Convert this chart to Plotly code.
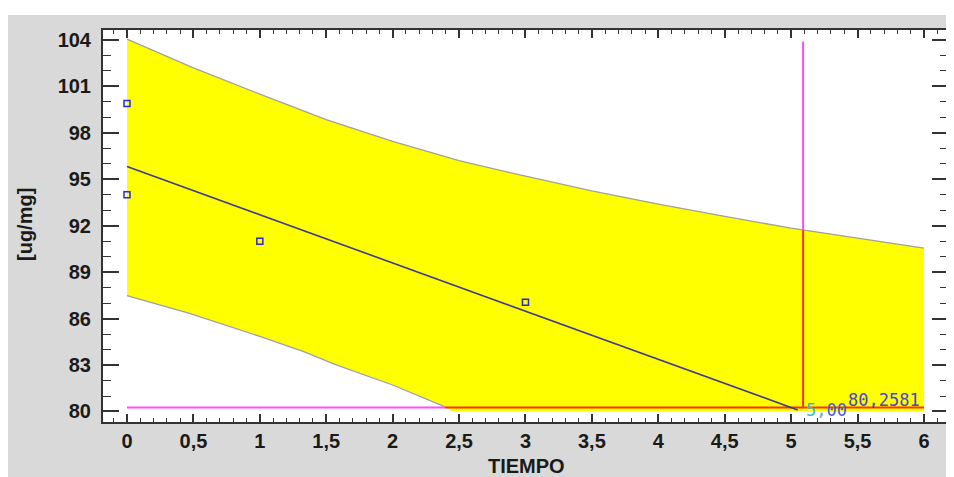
import plotly.graph_objects as go

# ---- data ----
obs_x = [0, 0, 1, 3]
obs_y = [99.9, 94.0, 91.0, 87.05]

fit_x = [0, 1, 2, 3, 4, 5, 5.05]
fit_y = [95.82, 92.71, 89.60, 86.49, 83.38, 80.27, 80.10]

upper_x = [0, 0.5, 1, 1.5, 2, 2.5, 3, 3.5, 4, 4.5, 5, 5.5, 6]
upper_y = [104.05, 102.2, 100.5, 98.85, 97.45, 96.2, 95.2, 94.25, 93.4, 92.6, 91.85, 91.2, 90.55]

lower_x = [0, 0.47, 1, 1.33, 1.58, 2, 2.39, 2.45, 6]
lower_y = [87.48, 86.34, 84.85, 83.87, 83.0, 81.71, 80.31, 80.0, 80.0]

limit_y = 80.2581
limit_start_x = 0
limit_end_x = 6
band_cross_x = 2.39
cross_x = 5.09
cross_top_y = 103.9
cross_band_y = 91.7

label_limit = "80,2581"

x_tickvals = [0, 0.5, 1, 1.5, 2, 2.5, 3, 3.5, 4, 4.5, 5, 5.5, 6]
x_ticktext = ["0", "0,5", "1", "1,5", "2", "2,5", "3", "3,5", "4", "4,5", "5", "5,5", "6"]
y_tickvals = [80, 83, 86, 89, 92, 95, 98, 101, 104]
y_ticktext = [str(v) for v in y_tickvals]

MAGENTA = "#ff4dff"
RED = "#ff3000"
YELLOW = "#ffff00"
EDGE = "#a0a0a0"

fig = go.Figure()

# band fill (closed polygon)
fig.add_trace(go.Scatter(
    x=upper_x + lower_x[::-1], y=upper_y + lower_y[::-1],
    fill="toself", fillcolor=YELLOW, mode="lines", line=dict(width=0),
    hoverinfo="skip", showlegend=False))
# band edges
fig.add_trace(go.Scatter(x=upper_x, y=upper_y, mode="lines",
                         line=dict(color=EDGE, width=1.3), showlegend=False))
fig.add_trace(go.Scatter(x=lower_x[:7], y=lower_y[:7], mode="lines",
                         line=dict(color=EDGE, width=1.3), showlegend=False))

# horizontal limit line: magenta outside band, red inside band
fig.add_trace(go.Scatter(x=[limit_start_x, band_cross_x], y=[limit_y, limit_y], mode="lines",
                         line=dict(color=MAGENTA, width=2), showlegend=False))
fig.add_trace(go.Scatter(x=[band_cross_x, limit_end_x], y=[limit_y, limit_y], mode="lines",
                         line=dict(color=RED, width=2), showlegend=False))
# vertical line
fig.add_trace(go.Scatter(x=[cross_x, cross_x], y=[cross_band_y, cross_top_y], mode="lines",
                         line=dict(color=MAGENTA, width=2), showlegend=False))
fig.add_trace(go.Scatter(x=[cross_x, cross_x], y=[limit_y, cross_band_y], mode="lines",
                         line=dict(color=RED, width=2), showlegend=False))

# regression line
fig.add_trace(go.Scatter(x=fit_x, y=fit_y, mode="lines",
                         line=dict(color="#3c3c8c", width=1.6), showlegend=False))

# observations
fig.add_trace(go.Scatter(x=obs_x, y=obs_y, mode="markers",
                         marker=dict(symbol="square-open", size=6, color="#2a2ad8",
                                     line=dict(width=1.5, color="#2a2ad8")),
                         showlegend=False))

fig.add_annotation(x=cross_x, y=80.12, xref="x", yref="y", text=
                   "<span style='color:#3fb8c8'>5,</span>00",
                   showarrow=False, xanchor="left", yanchor="middle", xshift=1,
                   font=dict(family="DejaVu Sans Mono", size=17, color="#4a5ad0"))
fig.add_annotation(x=5.985, y=80.72, xref="x", yref="y", text=label_limit,
                   showarrow=False, xanchor="right", yanchor="middle",
                   font=dict(family="DejaVu Sans Mono", size=17, color="#4848c8"))

# axis titles
fig.add_annotation(x=-0.0923, y=0.5026, xref="paper", yref="paper", text="[ug/mg]",
                   textangle=-90, showarrow=False, xanchor="center", yanchor="middle",
                   font=dict(family="Liberation Sans", size=20, color="#1a1a1a", weight="bold"))
fig.add_annotation(x=0.5006, y=-0.112, xref="paper", yref="paper", text="TIEMPO",
                   showarrow=False, xanchor="center", yanchor="middle",
                   font=dict(family="Liberation Sans", size=20, color="#1a1a1a", weight="bold"))

# white strip above the gray panel
fig.add_shape(type="rect", xref="paper", yref="paper", x0=-0.2, x1=1.1, y0=1.0383, y1=1.2,
              fillcolor="white", line=dict(width=0), layer="below")

axis_common = dict(showline=True, linecolor="#333333", linewidth=2, mirror="ticks",
                   ticks="inside", tickcolor="#333333", tickwidth=1.5,
                   showgrid=False, zeroline=False,
                   tickfont=dict(family="Liberation Sans", size=20, color="#1a1a1a", weight="bold"))

fig.update_xaxes(range=[-0.1807, 6.181], tickmode="array", tickvals=x_tickvals, ticktext=x_ticktext,
                 ticklen=8, minor=dict(ticks="inside", dtick=0.1, ticklen=4, tickcolor="#333333", tickwidth=1.2),
                 **axis_common)
fig.update_yaxes(range=[79.32, 104.646], tickmode="array", tickvals=y_tickvals, ticktext=y_ticktext,
                 ticklen=16, minor=dict(ticks="inside", dtick=1, tick0=80, ticklen=8, tickcolor="#333333", tickwidth=1.2),
                 ticklabelstandoff=6, **axis_common)

fig.update_layout(width=954, height=477, margin=dict(l=95, r=14, t=22, b=63),
                  paper_bgcolor="#d9d9d9", plot_bgcolor="white", showlegend=False)

fig.write_html("out.html")
